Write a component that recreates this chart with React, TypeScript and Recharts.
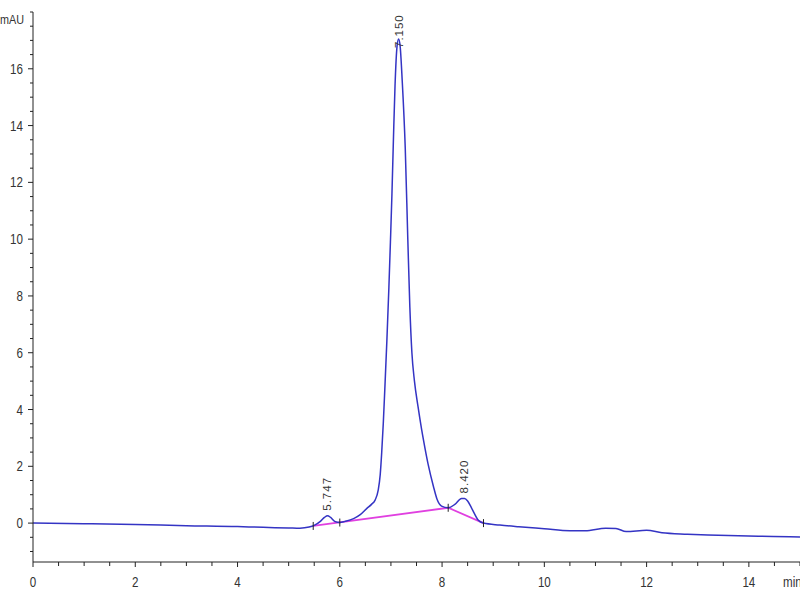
import { ComposedChart, Line, XAxis, YAxis, ReferenceDot } from "recharts";

// chromatogram trace (time in min, signal in mAU)
const TRACE_T = [
  0, 1, 2, 3, 4, 4.5, 5, 5.22, 5.4, 5.5, 5.62, 5.7, 5.76, 5.82, 5.9, 6, 6.1, 6.27, 6.4, 6.53,
  6.62, 6.69, 6.75, 6.79, 6.82, 6.85, 6.88, 6.92, 6.96, 6.99, 7.02, 7.05, 7.08, 7.12, 7.15, 7.18,
  7.22, 7.28, 7.33, 7.37, 7.41, 7.46, 7.53, 7.6, 7.67, 7.73, 7.83, 7.9, 7.99, 8.12, 8.25, 8.38,
  8.44, 8.5, 8.58, 8.71, 8.81, 9.13, 9.5, 10, 10.5, 10.8, 11.2, 11.4, 11.6, 12, 12.3, 12.8, 13.2,
  13.6, 14.2, 14.8, 15,
];
const TRACE_V = [
  0, -0.02, -0.05, -0.09, -0.12, -0.15, -0.17, -0.18, -0.14, -0.08, 0.06, 0.2, 0.26, 0.2, 0.06, 0.02, 0.06, 0.16, 0.3, 0.52,
  0.66, 0.81, 1.15, 1.7, 2.5, 3.5, 4.7, 6.4, 8.3, 9.9, 11.6, 13.6, 15.4, 16.8, 17.05, 16.8,
  15.6, 13.2, 10.0, 7.6, 6.0, 5.0, 4.1, 3.3, 2.6, 2.05, 1.3, 0.85, 0.6, 0.54, 0.66, 0.87,
  0.87, 0.78, 0.52, 0.1, 0.0, -0.07, -0.13, -0.2, -0.27, -0.27, -0.18, -0.19, -0.3, -0.25, -0.34, -0.39, -0.42,
  -0.44, -0.46, -0.48, -0.49,
];

// integration baseline drawn under the peaks
const BASE_T = [5.48, 8.12, 8.81];
const BASE_V = [-0.1, 0.54, 0.0];

// peak start / end markers
const BOUND_T = [5.48, 6.0, 8.12, 8.81];
const BOUND_V = [-0.1, 0.02, 0.54, 0.0];

// retention time labels
const PEAK_T = [5.747, 7.15, 8.42];
const PEAK_V = [0.26, 17.05, 0.87];

const X_TICKS = [
  0, 0.5, 1, 1.5, 2, 2.5, 3, 3.5, 4, 4.5, 5, 5.5, 6, 6.5, 7, 7.5, 8, 8.5, 9, 9.5, 10, 10.5, 11, 11.5,
  12, 12.5, 13, 13.5, 14, 14.5, 15,
];
const X_LABELS = [0, 2, 4, 6, 8, 10, 12, 14];
const Y_TICKS = [
  -1, -0.5, 0, 0.5, 1, 1.5, 2, 2.5, 3, 3.5, 4, 4.5, 5, 5.5, 6, 6.5, 7, 7.5, 8, 8.5, 9, 9.5, 10, 10.5,
  11, 11.5, 12, 12.5, 13, 13.5, 14, 14.5, 15, 15.5, 16, 16.5, 17, 17.5, 18,
];
const Y_LABELS = [0, 2, 4, 6, 8, 10, 12, 14, 16];

const trace = TRACE_T.map((t, i) => ({ t, v: TRACE_V[i] }));
const baseline = BASE_T.map((t, i) => ({ t, v: BASE_V[i] }));

const FONT = "'Liberation Sans', Arial, sans-serif";
const AXIS = "#222";
const INK = "#333";
const TOP = 12;
const SQUEEZE = 0.8; // narrow the digits like the instrument print-out

// text drawn at (x, y) and squeezed horizontally around x
function NarrowText({ x, y, anchor, size, children }: any) {
  return (
    <text
      transform={`translate(${x} ${y}) scale(${SQUEEZE} 1)`}
      textAnchor={anchor}
      fontSize={size}
      fontFamily={FONT}
      fill={INK}
    >
      {children}
    </text>
  );
}

function YTick({ x, y, payload }: any) {
  const major = Y_LABELS.includes(payload.value);
  return (
    <g>
      <line x1={x - (major ? 5 : 3)} x2={x} y1={y} y2={y} stroke={AXIS} />
      {major && (
        <NarrowText x={x - 10} y={y + 5} anchor="end" size={14.5}>
          {payload.value}
        </NarrowText>
      )}
    </g>
  );
}

function XTick({ x, y, payload }: any) {
  const major = X_LABELS.includes(payload.value);
  return (
    <g>
      <line x1={x} x2={x} y1={y} y2={y + (major ? 5 : 4)} stroke={AXIS} />
      {major && (
        <NarrowText x={x} y={y + 25} anchor="middle" size={14.5}>
          {payload.value}
        </NarrowText>
      )}
    </g>
  );
}

function PeakLabel({ cx, cy, text }: any) {
  // keep the label inside the plot: shift it down when it would pass the top
  const y0 = Math.max(cy - 5, TOP + 36);
  const bx = cx + 4;
  return (
    <text
      x={bx}
      y={y0}
      transform={`rotate(-90 ${bx} ${y0})`}
      fontSize={11.5}
      letterSpacing={1}
      fontFamily={FONT}
      fill={INK}
    >
      {text}
    </text>
  );
}

function BoundTick({ cx, cy }: any) {
  return <line x1={cx} x2={cx} y1={cy - 4} y2={cy + 4} stroke="#222" />;
}

export default function App() {
  return (
    <div style={{ position: "absolute", left: 0, top: 0, width: 800, height: 600, background: "#fff" }}>
      <ComposedChart width={800} height={600} margin={{ top: TOP, right: 0, bottom: 0, left: 0 }}>
        <XAxis
          type="number"
          dataKey="t"
          domain={[0, 15]}
          ticks={X_TICKS}
          interval={0}
          tickSize={0}
          tickMargin={0}
          tickLine={false}
          tick={<XTick />}
          axisLine={{ stroke: AXIS }}
          height={38}
          allowDataOverflow
        />
        <YAxis
          type="number"
          dataKey="v"
          domain={[-1.37, 18]}
          ticks={Y_TICKS}
          interval={0}
          tickSize={0}
          tickMargin={0}
          tickLine={false}
          tick={<YTick />}
          axisLine={{ stroke: AXIS }}
          width={33}
          allowDataOverflow
        />
        <Line
          data={baseline}
          dataKey="v"
          type="linear"
          stroke="#e040e0"
          strokeWidth={1.8}
          dot={false}
          isAnimationActive={false}
        />
        <Line
          data={trace}
          dataKey="v"
          type="monotone"
          stroke="#3434c4"
          strokeWidth={1.5}
          dot={false}
          isAnimationActive={false}
        />
        {BOUND_T.map((t, i) => (
          <ReferenceDot key={`b${i}`} x={t} y={BOUND_V[i]} r={0} shape={<BoundTick />} />
        ))}
        {PEAK_T.map((t, i) => (
          <ReferenceDot
            key={`p${i}`}
            x={t}
            y={PEAK_V[i]}
            r={0}
            shape={(p: any) => <PeakLabel {...p} text={t.toFixed(3)} />}
          />
        ))}
      </ComposedChart>
      <svg width={800} height={600} style={{ position: "absolute", left: 0, top: 0, pointerEvents: "none" }}>
        <NarrowText x={24} y={24} anchor="end" size={13.5}>
          mAU
        </NarrowText>
        <NarrowText x={783} y={587} anchor="start" size={14.5}>
          min
        </NarrowText>
      </svg>
    </div>
  );
}
